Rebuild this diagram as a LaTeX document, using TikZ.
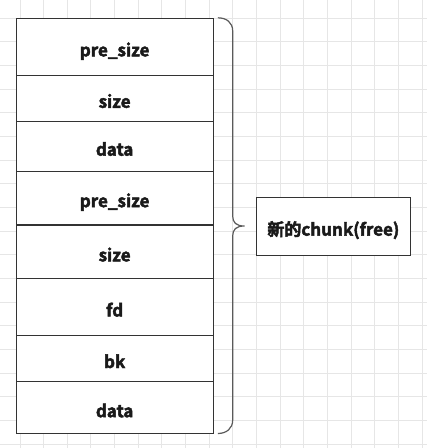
\documentclass[tikz,border=0pt]{standalone}
\usepackage{fontspec}
\newfontfamily\cjk{Noto Sans CJK SC Bold}
\newcommand\heavytext[1]{\special{pdf:literal direct 2 Tr 0.45 w}#1\special{pdf:literal direct 0 Tr}}
\definecolor{gridcol}{HTML}{E6E6E6}
\definecolor{linecol}{HTML}{333333}
\definecolor{bracecol}{HTML}{5A5A5A}
\definecolor{txtcol}{HTML}{1A1A1A}
\tikzset{
  gridline/.style={draw=gridcol, line width=1pt},
  row/.style={draw=linecol, fill=white, line width=1pt, minimum width=197.3pt,
    inner sep=0pt, text height=19pt, text depth=0pt, text=txtcol,
    font=\cjk\fontsize{17}{17}\selectfont},
  label box/.style={row, minimum width=154.7pt},
  bracepath/.style={draw=bracecol, line width=1.2pt}
}
\begin{document}
\begin{tikzpicture}[x=1pt,y=-1pt]
\useasboundingbox (0,0) rectangle (427,448);
\fill[white] (0,0) rectangle (427,448);
% grid
\foreach \k in {-1,...,17} {
  \draw[gridline] ({20+23.65*\k},0) -- ({20+23.65*\k},448);
}
\foreach \k in {-1,...,18} {
  \draw[gridline] (0,{18.3+23.65*\k}) -- (427,{18.3+23.65*\k});
}
% rows
\node[row, minimum height=57pt]   (r1) at (114.65,46.8)  {\heavytext{pre\_size}};
\node[row, minimum height=46pt]   (r2) at (114.65,98.3)  {\heavytext{size}};
\node[row, minimum height=49.7pt] (r3) at (114.65,146.15) {\heavytext{data}};
\node[row, minimum height=53.3pt] (r4) at (114.65,197.65) {\heavytext{pre\_size}};
\node[row, minimum height=53.7pt] (r5) at (114.65,251.85) {\heavytext{size}};
\node[row, minimum height=56.6pt] (r6) at (114.65,307.0) {\heavytext{fd}};
\node[row, minimum height=46.4pt] (r7) at (114.65,358.5) {\heavytext{bk}};
\node[row, minimum height=52pt]   (r8) at (114.65,407.7) {\heavytext{data}};
% label box
\node[label box, minimum height=57.7pt] (lbl) at (333.35,226.15) {\heavytext{新的chunk(free)}};
% brace
\coordinate (btop) at (217.8,17.8);
\coordinate (btip) at (244.5,226);
\coordinate (bbot) at (217.8,433.5);
\draw[bracepath] (btop) .. controls (226.5,17.8) and (232.7,22.5) .. (232.7,31)
  -- (232.7,216) .. controls (232.7,222.5) and (236,226) .. (btip)
  .. controls (236,226) and (232.7,229.5) .. (232.7,236)
  -- (232.7,420) .. controls (232.7,428.5) and (226.5,433.5) .. (bbot);
\end{tikzpicture}
\end{document}
